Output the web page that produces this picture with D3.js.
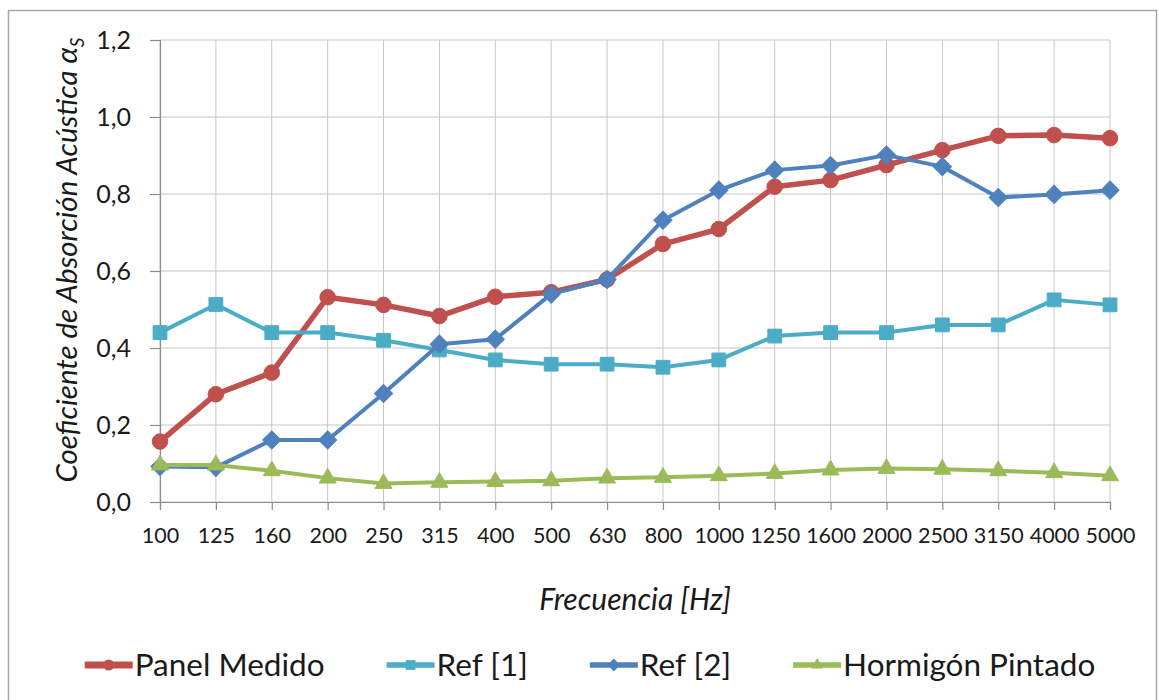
<!DOCTYPE html>
<html>
<head>
<meta charset="utf-8">
<script src="https://cdn.jsdelivr.net/npm/d3@7"></script>
<style>
  body { margin: 0; background: #fff; }
  svg text { font-family: Lato, "Noto Sans", sans-serif; fill: #1a1a1a; }
</style>
</head>
<body>
<div id="chart"></div>
<script>
// data
const frequencies = ["100", "125", "160", "200", "250", "315", "400", "500", "630",
    "800", "1000", "1250", "1600", "2000", "2500", "3150", "4000", "5000"]
const panelMedido = [0.157, 0.28, 0.336, 0.532, 0.512, 0.483, 0.533, 0.545, 0.578,
    0.67, 0.709, 0.819, 0.836, 0.875, 0.914, 0.951, 0.953, 0.945]
const ref1 = [0.44, 0.513, 0.44, 0.44, 0.42, 0.395, 0.369, 0.358, 0.358,
    0.35, 0.369, 0.431, 0.44, 0.44, 0.46, 0.46, 0.525, 0.512]
const ref2 = [0.092, 0.09, 0.161, 0.161, 0.282, 0.41, 0.423, 0.54, 0.578,
    0.732, 0.81, 0.862, 0.874, 0.901, 0.871, 0.791, 0.799, 0.81]
const hormigon = [0.096, 0.096, 0.081, 0.062, 0.048, 0.051, 0.053, 0.055, 0.062,
    0.064, 0.068, 0.074, 0.083, 0.087, 0.085, 0.081, 0.076, 0.068]
const seriesNames = ["Panel Medido", "Ref [1]", "Ref [2]", "Hormigón Pintado"]
const yTicks = [0, 0.2, 0.4, 0.6, 0.8, 1.0, 1.2]

const width = 1159
const height = 700
const plot = { left: 160, right: 1110, top: 40, bottom: 502 }

const styles = [
    { color: "#C0504D", symbol: "circle", line: 5.5, size: 190 },
    { color: "#4BACC6", symbol: "square", line: 4, size: 190 },
    { color: "#4F81BD", symbol: "diamond", line: 4, size: 165 },
    { color: "#9BBB59", symbol: "triangle", line: 4, size: 125 }
]
const allValues = [panelMedido, ref1, ref2, hormigon]
const series = seriesNames.map((name, i) => ({ name, values: allValues[i], ...styles[i] }))

const svg = d3.select("#chart")
    .append("svg")
    .attr("width", width)
    .attr("height", height)

// chart area border
svg.append("rect")
    .attr("x", 8.5).attr("y", 10.5)
    .attr("width", 1148).attr("height", 720)
    .attr("fill", "#fff")
    .attr("stroke", "#a6a6a6")
    .attr("stroke-width", 1.5)

const x = d3.scalePoint()
    .domain(frequencies)
    .range([plot.left, plot.right])

const y = d3.scaleLinear()
    .domain([0, 1.2])
    .range([plot.bottom, plot.top])

const fmt = v => d3.format(".1f")(v).replace(".", ",")

// gridlines
svg.append("g")
    .selectAll("line")
    .data(yTicks)
    .enter()
    .append("line")
    .attr("x1", plot.left).attr("x2", plot.right)
    .attr("y1", d => y(d)).attr("y2", d => y(d))
    .attr("stroke", "#c6c6c6")
    .attr("stroke-width", 1)

svg.append("g")
    .selectAll("line")
    .data(frequencies)
    .enter()
    .append("line")
    .attr("x1", d => x(d)).attr("x2", d => x(d))
    .attr("y1", plot.top).attr("y2", plot.bottom)
    .attr("stroke", "#c6c6c6")
    .attr("stroke-width", 1)

// axes
const yAxis = svg.append("g")
    .attr("transform", `translate(${plot.left}, 0)`)
    .call(d3.axisLeft(y).tickValues(yTicks).tickFormat(fmt).tickSize(10).tickPadding(19))
yAxis.selectAll("text").style("font-size", "25px")

const xAxis = svg.append("g")
    .attr("transform", `translate(0, ${plot.bottom})`)
    .call(d3.axisBottom(x).tickSize(8).tickPadding(18))
xAxis.selectAll("text").style("font-size", "21.5px")

svg.selectAll(".domain, .tick line")
    .attr("stroke", "#8c8c8c")
    .attr("stroke-width", 1.2)

// axis titles
const yTitle = svg.append("text")
    .attr("transform", `translate(77, 260) rotate(-90)`)
    .attr("text-anchor", "middle")
    .style("font-size", "29.5px")
    .style("font-style", "italic")
yTitle.append("tspan").text("Coeficiente de Absorción Acústica α")
yTitle.append("tspan")
    .attr("dy", 7)
    .style("font-size", "19px")
    .text("S")

svg.append("text")
    .attr("x", (plot.left + plot.right) / 2)
    .attr("y", 610)
    .attr("text-anchor", "middle")
    .style("font-size", "30px")
    .style("font-style", "italic")
    .text("Frecuencia [Hz]")

// markers
const symbolPath = (kind, size) => {
    if (kind === "circle") return d3.symbol(d3.symbolCircle, size)()
    if (kind === "triangle") return d3.symbol(d3.symbolTriangle, size)()
    return d3.symbol(d3.symbolSquare, size)()  // diamond = square turned 45°
}

const line = d3.line()
    .x((d, i) => x(frequencies[i]))
    .y(d => y(d))

series.forEach(s => {
    const g = svg.append("g")
    g.append("path")
        .datum(s.values)
        .attr("d", line)
        .attr("fill", "none")
        .attr("stroke", s.color)
        .attr("stroke-width", s.line)
        .attr("stroke-linejoin", "round")

    g.selectAll("path.marker")
        .data(s.values)
        .enter()
        .append("path")
        .attr("class", "marker")
        .attr("d", symbolPath(s.symbol, s.size))
        .attr("transform", (d, i) => `translate(${x(frequencies[i])}, ${y(d)})` + (s.symbol === "diamond" ? " rotate(45)" : ""))
        .attr("fill", s.color)
        .attr("stroke", s.color)
        .attr("stroke-width", 1)
})

// legend
const legend = svg.append("g")
const items = legend.selectAll("g")
    .data(series)
    .enter()
    .append("g")

items.append("line")
    .attr("x1", 0).attr("x2", 48)
    .attr("y1", 0).attr("y2", 0)
    .attr("stroke", d => d.color)
    .attr("stroke-width", d => d.line + 1.5)

items.append("path")
    .attr("d", d => symbolPath(d.symbol, d.size * 0.5))
    .attr("transform", d => "translate(24, 0)" + (d.symbol === "diamond" ? " rotate(45)" : ""))
    .attr("fill", d => d.color)

items.append("text")
    .attr("x", 50)
    .attr("y", 11)
    .style("font-size", "31.5px")
    .text(d => d.name)

let offset = 0
items.each(function () {
    const w = 50 + this.querySelector("text").getComputedTextLength()
    d3.select(this).attr("transform", `translate(${offset}, 0)`)
    offset += w + 62
})
const legendWidth = offset - 62
legend.attr("transform", `translate(${590 - legendWidth / 2}, 665)`)
</script>
</body>
</html>
